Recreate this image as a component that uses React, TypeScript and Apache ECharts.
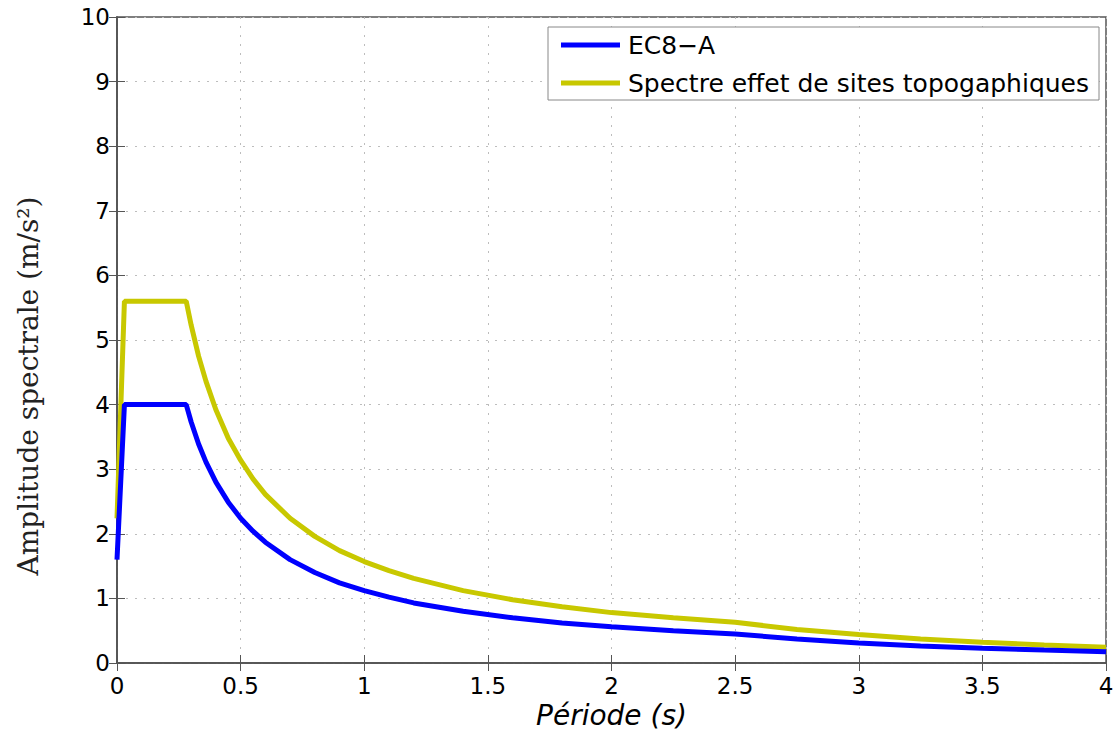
import React, { useEffect, useRef } from "react";
import * as echarts from "echarts";

const periods = [0, 0.03, 0.28, 0.3, 0.33, 0.36, 0.4, 0.45, 0.5, 0.55, 0.6, 0.7, 0.8, 0.9, 1.0, 1.1, 1.2, 1.4, 1.6, 1.8, 2.0, 2.25, 2.5, 2.75, 3.0, 3.25, 3.5, 3.75, 4.0];
const ec8A = [1.6, 4.0, 4.0, 3.73, 3.39, 3.11, 2.8, 2.49, 2.24, 2.04, 1.87, 1.6, 1.4, 1.24, 1.12, 1.02, 0.93, 0.8, 0.7, 0.62, 0.56, 0.5, 0.45, 0.37, 0.31, 0.265, 0.23, 0.2, 0.175];
const topo = [2.24, 5.6, 5.6, 5.23, 4.75, 4.36, 3.92, 3.48, 3.14, 2.85, 2.61, 2.24, 1.96, 1.74, 1.57, 1.43, 1.31, 1.12, 0.98, 0.87, 0.78, 0.7, 0.63, 0.52, 0.44, 0.37, 0.32, 0.28, 0.245];
const seriesNames = ["EC8\u2212A", "Spectre effet de sites topogaphiques"];
const xTickLabels = ["0", "0.5", "1", "1.5", "2", "2.5", "3", "3.5", "4"];

export default function App() {
  const ref = useRef<HTMLDivElement>(null);
  useEffect(() => {
    if (!ref.current) return;
    const chart = echarts.init(ref.current, null, { renderer: "svg" });
    const font = "'DejaVu Sans', sans-serif";
    const gridLine = { show: true, lineStyle: { color: "#bdbdbd", type: [2, 7] as any, width: 1 } };
    const tick = { show: true, inside: true, length: 8, lineStyle: { color: "#555", width: 1 } };
    chart.setOption({
      animation: false,
      backgroundColor: "#fff",
      grid: {
        left: 117,
        right: 10,
        top: 17,
        bottom: 68,
        show: true,
        borderColor: "#555",
        borderWidth: 1.5,
        containLabel: false,
        outerBoundsMode: "none",
      },
      legend: {
        orient: "vertical",
        left: 548,
        top: 27,
        backgroundColor: "#fff",
        borderColor: "#888",
        borderWidth: 1,
        borderRadius: 0,
        padding: [3, 10, 2, 13],
        itemWidth: 59,
        itemHeight: 5,
        itemGap: 8,
        icon: "rect",
        textStyle: { fontFamily: font, fontSize: 25, color: "#000", lineHeight: 30, padding: [0, 0, 0, 3] },
        data: seriesNames,
      },
      graphic: [
        {
          type: "text",
          x: 28,
          y: 386,
          rotation: Math.PI / 2,
          style: {
            text: "Amplitude spectrale (m/s²)",
            fontFamily: "'DejaVu Serif', 'Liberation Serif', serif",
            fontSize: 28,
            fill: "#222",
            align: "center",
            verticalAlign: "middle",
          },
        },
      ],
      xAxis: [
        {
          type: "value",
          min: 0,
          max: 4,
          interval: 0.5,
          name: "Période (s)",
          nameLocation: "middle",
          nameGap: 36,
          nameTextStyle: { fontFamily: font, fontSize: 28, fontStyle: "italic", color: "#000" },
          axisLine: { show: true, lineStyle: { color: "#555", width: 1.5 } },
          axisTick: tick,
          axisLabel: {
            fontFamily: font,
            fontSize: 23,
            color: "#000",
            margin: 11,
            formatter: (v: number) => xTickLabels[Math.round(v / 0.5)] ?? String(v),
          },
          splitLine: gridLine,
        },
        {
          type: "value",
          position: "top",
          min: 0,
          max: 4,
          interval: 0.5,
          axisLine: { show: true, lineStyle: { color: "#555", width: 1.5 } },
          axisTick: tick,
          axisLabel: { show: false },
          splitLine: { show: false },
        },
      ],
      yAxis: [
        {
          type: "value",
          min: 0,
          max: 10,
          interval: 1,
          axisLine: { show: true, lineStyle: { color: "#555", width: 1.5 } },
          axisTick: tick,
          axisLabel: { fontFamily: font, fontSize: 23, color: "#000", margin: 7 },
          splitLine: gridLine,
        },
        {
          type: "value",
          position: "right",
          min: 0,
          max: 10,
          interval: 1,
          axisLine: { show: true, lineStyle: { color: "#555", width: 1.5 } },
          axisTick: tick,
          axisLabel: { show: false },
          splitLine: { show: false },
        },
      ],
      series: [
        {
          name: seriesNames[0],
          type: "line",
          data: periods.map((p, i) => [p, ec8A[i]]),
          showSymbol: false,
          lineStyle: { color: "#0000ff", width: 5 },
          itemStyle: { color: "#0000ff" },
          z: 3,
        },
        {
          name: seriesNames[1],
          type: "line",
          data: periods.map((p, i) => [p, topo[i]]),
          showSymbol: false,
          lineStyle: { color: "#c8c800", width: 5 },
          itemStyle: { color: "#c8c800" },
          z: 2,
        },
      ],
    });
    return () => chart.dispose();
  }, []);
  return <div ref={ref} style={{ position: "fixed", left: 0, top: 0, width: 1116, height: 731 }} />;
}
